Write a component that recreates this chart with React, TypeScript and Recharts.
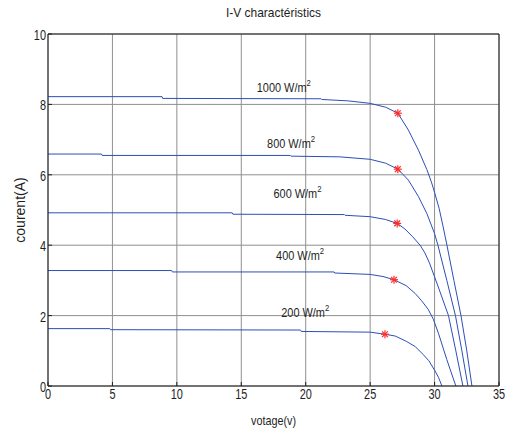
import { CartesianGrid, ComposedChart, Line, Scatter, XAxis, YAxis } from 'recharts'

// I-V curves of a PV module at five irradiance levels: [voltage, current]
const g1000: [number, number][] = [
  [0, 8.22], [8.85, 8.22], [8.9, 8.17], [21.2, 8.16], [21.25, 8.14], [23.3, 8.1],
  [25, 8.03], [26.2, 7.92], [27.15, 7.75], [27.97, 7.27], [28.75, 6.7], [29.4, 6.15],
  [29.75, 5.8], [30.0, 5.5], [30.35, 5.05], [30.65, 4.55], [30.96, 4.0], [31.5, 3.0],
  [32.05, 2.0], [32.5, 1.0], [32.9, 0],
]
const g800: [number, number][] = [
  [0, 6.59], [4.15, 6.59], [4.2, 6.55], [18.8, 6.55], [18.85, 6.53], [22.65, 6.51],
  [25, 6.44], [26.2, 6.33], [27.15, 6.16], [27.97, 5.85], [28.75, 5.38], [29.4, 4.9],
  [30.0, 4.33], [30.26, 4.0], [30.95, 3.0], [31.62, 2.0], [32.12, 1.0], [32.59, 0],
]
const g600: [number, number][] = [
  [0, 4.92], [14.3, 4.92], [14.35, 4.88], [23.0, 4.87], [23.05, 4.85], [25, 4.81],
  [26.2, 4.73], [27.1, 4.62], [27.7, 4.46], [28.3, 4.24], [28.88, 4.0], [29.25, 3.78],
  [29.6, 3.5], [30.35, 2.75], [31.08, 2.0], [31.65, 1.0], [32.2, 0],
]
const g400: [number, number][] = [
  [0, 3.28], [9.6, 3.28], [9.65, 3.24], [22.2, 3.24], [22.25, 3.21], [25, 3.17],
  [26.0, 3.11], [26.85, 3.02], [27.8, 2.85], [28.49, 2.63], [29.0, 2.42], [29.5, 2.18],
  [29.9, 1.9], [30.3, 1.5], [30.95, 0.75], [31.65, 0],
]
const g200: [number, number][] = [
  [0, 1.63], [4.8, 1.63], [4.85, 1.6], [19.6, 1.59], [19.65, 1.55], [25, 1.53],
  [26.15, 1.47], [26.94, 1.42], [27.8, 1.27], [28.5, 1.12], [29.1, 0.9], [29.55, 0.72],
  [30.0, 0.45], [30.3, 0.25], [30.57, 0],
]

// maximum power points (red stars)
const mppV = [27.15, 27.15, 27.1, 26.85, 26.15]
const mppI = [7.75, 6.16, 4.62, 3.02, 1.47]

// irradiance annotations: text, left edge voltage, baseline current
const irrText = ['1000', '800', '600', '400', '200']
const irrV = [16.2, 17.0, 17.5, 17.7, 18.1]
const irrI = [8.35, 6.76, 5.34, 3.58, 1.97]

const xTicks = [0, 5, 10, 15, 20, 25, 30, 35]
const yTicks = [0, 2, 4, 6, 8, 10]

const FONT = "'Liberation Sans', Arial, sans-serif"
const BLUE = '#2b4fb6'
const INK = '#1e1e1e'

const toPts = (arr: [number, number][]) => arr.map(([v, i]) => ({ v, i }))
const curves = [g1000, g800, g600, g400, g200].map(toPts)
const mpp = mppV.map((v, k) => ({ v, i: mppI[k] }))
const irr = irrText.map((t, k) => ({ t, v: irrV[k], i: irrI[k] }))

// condensed text, MATLAB export look
const NText = ({ x, y, anchor = 'start', size = 14, sx = 0.78, children }: any) => (
  <text
    transform={`translate(${x} ${y}) scale(${sx} 1)`}
    textAnchor={anchor} fontSize={size} fontFamily={FONT} fill={INK}
  >
    {children}
  </text>
)

const BottomTick = ({ x, y, payload }: any) => (
  <g>
    <line x1={x} x2={x} y1={y} y2={y - 4} stroke={INK} />
    <NText x={x} y={y + 13} anchor="middle">{payload.value}</NText>
  </g>
)

const LeftTick = ({ x, y, payload }: any) => (
  <g>
    <line x1={x} x2={x + 4} y1={y} y2={y} stroke={INK} />
    <NText x={x - 2} y={y + 6} anchor="end">{payload.value}</NText>
  </g>
)

const TopTick = ({ x, y }: any) => <line x1={x} x2={x} y1={y} y2={y + 4} stroke={INK} />
const RightTick = ({ x, y }: any) => <line x1={x} x2={x - 4} y1={y} y2={y} stroke={INK} />

const Star = ({ cx, cy }: any) => {
  const r = 4
  const d = r * 0.72
  return (
    <g stroke="#ff2a2a" strokeWidth={1.2}>
      <line x1={cx - r} x2={cx + r} y1={cy} y2={cy} />
      <line x1={cx} x2={cx} y1={cy - r} y2={cy + r} />
      <line x1={cx - d} x2={cx + d} y1={cy - d} y2={cy + d} />
      <line x1={cx - d} x2={cx + d} y1={cy + d} y2={cy - d} />
    </g>
  )
}

const IrrLabel = ({ cx, cy, payload }: any) => (
  <NText x={cx} y={cy} size={13.5} sx={0.81}>
    <tspan>{payload.t} W/m</tspan>
    <tspan dy={-6} fontSize={9.5}>2</tspan>
  </NText>
)

export default function App() {
  return (
    <div style={{ position: 'absolute', left: 0, top: 0, width: 508, height: 434, background: '#fff' }}>
      <div
        style={{
          position: 'absolute', left: 48, width: 451, top: 5, textAlign: 'center',
          fontFamily: FONT, fontSize: 13, color: INK, transform: 'scaleX(0.92)',
        }}
      >
        I-V charactéristics
      </div>
      <ComposedChart width={508} height={434} margin={{ top: 33, right: 8, bottom: 0, left: 0 }}>
        <CartesianGrid stroke="#8f8f8f" />
        <XAxis
          type="number" dataKey="v" domain={[0, 35]} ticks={xTicks} interval={0}
          height={48} tickSize={0} tickMargin={0} tickLine={false}
          axisLine={{ stroke: INK }} tick={<BottomTick />} allowDataOverflow
        />
        <XAxis
          xAxisId="top" orientation="top" type="number" dataKey="v" domain={[0, 35]}
          ticks={xTicks} interval={0} height={1} tickSize={0} tickMargin={0} tickLine={false}
          axisLine={{ stroke: INK }} tick={<TopTick />}
        />
        <YAxis
          type="number" dataKey="i" domain={[0, 10]} ticks={yTicks} interval={0}
          width={48} tickSize={0} tickMargin={0} tickLine={false}
          axisLine={{ stroke: INK }} tick={<LeftTick />} allowDataOverflow
        />
        <YAxis
          yAxisId="right" orientation="right" type="number" dataKey="i" domain={[0, 10]}
          ticks={yTicks} interval={0} width={1} tickSize={0} tickMargin={0} tickLine={false}
          axisLine={{ stroke: INK }} tick={<RightTick />}
        />
        {curves.map((c, k) => (
          <Line
            key={k} data={c} dataKey="i" type="linear" stroke={BLUE} strokeWidth={1}
            dot={false} activeDot={false} isAnimationActive={false}
          />
        ))}
        <Scatter data={mpp} dataKey="i" shape={<Star />} isAnimationActive={false} />
        <Scatter data={irr} dataKey="i" shape={<IrrLabel />} isAnimationActive={false} />
      </ComposedChart>
      <div
        style={{
          position: 'absolute', left: 48, width: 451, top: 413, textAlign: 'center',
          fontFamily: FONT, fontSize: 13, color: INK, transform: 'scaleX(0.83)',
        }}
      >
        votage(v)
      </div>
      <div
        style={{
          position: 'absolute', left: 20, top: 210, transform: 'translate(-50%, -50%) rotate(-90deg)',
          fontFamily: FONT, fontSize: 14, color: INK, whiteSpace: 'nowrap',
        }}
      >
        courent(A)
      </div>
    </div>
  )
}
